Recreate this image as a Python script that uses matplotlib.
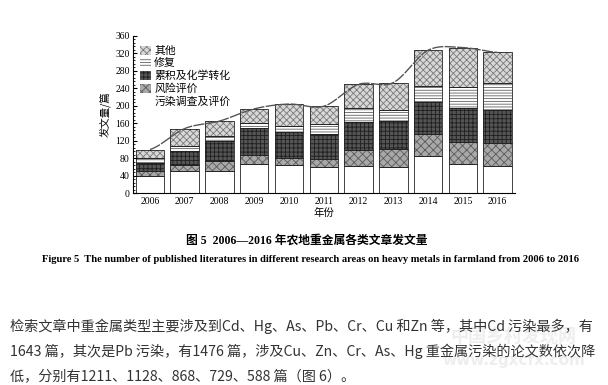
import numpy as np
import matplotlib
matplotlib.use("Agg")
import matplotlib.pyplot as plt

plt.rcParams['font.family'] = ['Liberation Serif', 'Noto Sans CJK SC', 'DejaVu Sans']
plt.rcParams['hatch.linewidth'] = 0.6

years = ["2006", "2007", "2008", "2009", "2010", "2011", "2012", "2013", "2014", "2015", "2016"]
survey = [40, 52, 50, 67, 65, 59, 62, 59, 86, 68, 63]
risk = [10, 13, 23, 21, 16, 20, 38, 43, 50, 49, 53]
accum = [20, 32, 46, 62, 58, 57, 63, 64, 72, 78, 75]
repair = [10, 10, 12, 10, 15, 22, 31, 24, 37, 49, 62]
other = [20, 41, 34, 33, 50, 41, 55, 63, 82, 89, 69]

labels = ["污染调查及评价", "风险评价", "累积及化学转化", "修复", "其他"]
series = [survey, risk, accum, repair, other]
faces = ["white", "#a8a8a8", "#555555", "white", "#d8d8d8"]
hatch_cols = ["white", "#5a5a5a", "#1e1e1e", "#606060", "#7a7a7a"]
hatches = [None, "xxxx", "++++", "------", "xxxxx"]

fig = plt.figure(figsize=(6.08, 3.85), dpi=100)
ax = fig.add_axes([0.218, 0.498, 0.629, 0.409])

x = np.arange(len(years))
bottom = np.zeros(len(years))
handles = []
for vals, lab, fc, hc, h in zip(series, labels, faces, hatch_cols, hatches):
    vals = np.array(vals, dtype=float)
    b = ax.bar(x, vals, 0.82, bottom=bottom, color=fc, edgecolor=hc,
               hatch=h, linewidth=0, label=lab)
    ax.bar(x, vals, 0.82, bottom=bottom, fill=False, edgecolor="#222222", linewidth=0.6)
    handles.append(b)
    bottom = bottom + vals

# smooth trend line through totals (Catmull-Rom)
tot = bottom
xs, ys = [], []
for i in range(len(x) - 1):
    p0 = tot[max(i - 1, 0)]; p1 = tot[i]; p2 = tot[i + 1]; p3 = tot[min(i + 2, len(x) - 1)]
    t = np.linspace(0, 1, 20)
    yy = 0.5 * ((2 * p1) + (-p0 + p2) * t + (2 * p0 - 5 * p1 + 4 * p2 - p3) * t ** 2
                + (-p0 + 3 * p1 - 3 * p2 + p3) * t ** 3)
    xs.extend(x[i] + t); ys.extend(yy)
ax.plot(xs, ys, color="#555555", lw=1.0, ls=(0, (8, 1)))

ax.set_xlim(-0.5, len(years) - 0.5)
ax.set_ylim(0, 360)
ax.set_yticks(np.arange(0, 361, 40))
ax.set_yticks(np.arange(0, 361, 8), minor=True)
ax.set_xticks(x)
ax.set_xticklabels(years, fontsize=7)
ax.tick_params(axis="x", length=0, pad=3)
ax.tick_params(axis="y", which="major", direction="in", length=3, labelsize=7, pad=2)
ax.tick_params(axis="y", which="minor", direction="in", length=1.5)
for s in ["top", "right"]:
    ax.spines[s].set_visible(False)
ax.spines["left"].set_linewidth(0.8)
ax.spines["bottom"].set_linewidth(0.8)
ax.set_xlabel("年份", fontsize=7.5, family=["Noto Sans CJK SC"], labelpad=1)
ax.set_ylabel("发文量/篇", fontsize=7.5, family=["Noto Sans CJK SC"], labelpad=3)

ax.legend(handles[::-1], labels[::-1], loc="upper left", bbox_to_anchor=(0.0, 0.985),
          frameon=False, prop={"family": ["Noto Sans CJK SC"], "size": 7.8},
          handlelength=1.0, handleheight=0.9, labelspacing=0.2, handletextpad=0.3,
          borderaxespad=0.3)

fig.text(0.505, 0.374, "图 5  2006—2016 年农地重金属各类文章发文量", ha="center", va="center",
         fontsize=8.5, fontweight="bold", family=["Liberation Serif", "Noto Sans CJK SC"])
fig.text(0.511, 0.327, "Figure 5  The number of published literatures in different research areas on heavy metals in farmland from 2006 to 2016",
         ha="center", va="center", fontsize=7.6, fontweight="bold", family=["Liberation Serif"])

para = ["检索文章中重金属类型主要涉及到Cd、Hg、As、Pb、Cr、Cu 和Zn 等，其中Cd 污染最多，有",
        "1643 篇，其次是Pb 污染，有1476 篇，涉及Cu、Zn、Cr、As、Hg 重金属污染的论文数依次降",
        "低，分别有1211、1128、868、729、588 篇（图 6）。"]
for i, line in enumerate(para):
    fig.text(0.016, 1 - (326 + 25 * i) / 385, line, ha="left", va="center", fontsize=10.2,
             color="#333333", family=["Noto Sans CJK SC"], zorder=2)

fig.text(0.845, 1 - 336 / 385, "中国乡村发现网", ha="center", va="center", fontsize=13,
         color="#eeeeee", family=["Noto Sans CJK SC"], fontweight="bold", zorder=0)
fig.text(0.845, 1 - 360 / 385, "www.zgxcfx.com", ha="center", va="center", fontsize=11,
         color="#eeeeee", family=["DejaVu Sans"], fontweight="bold", zorder=0)

fig.savefig("out.png", dpi=100)
